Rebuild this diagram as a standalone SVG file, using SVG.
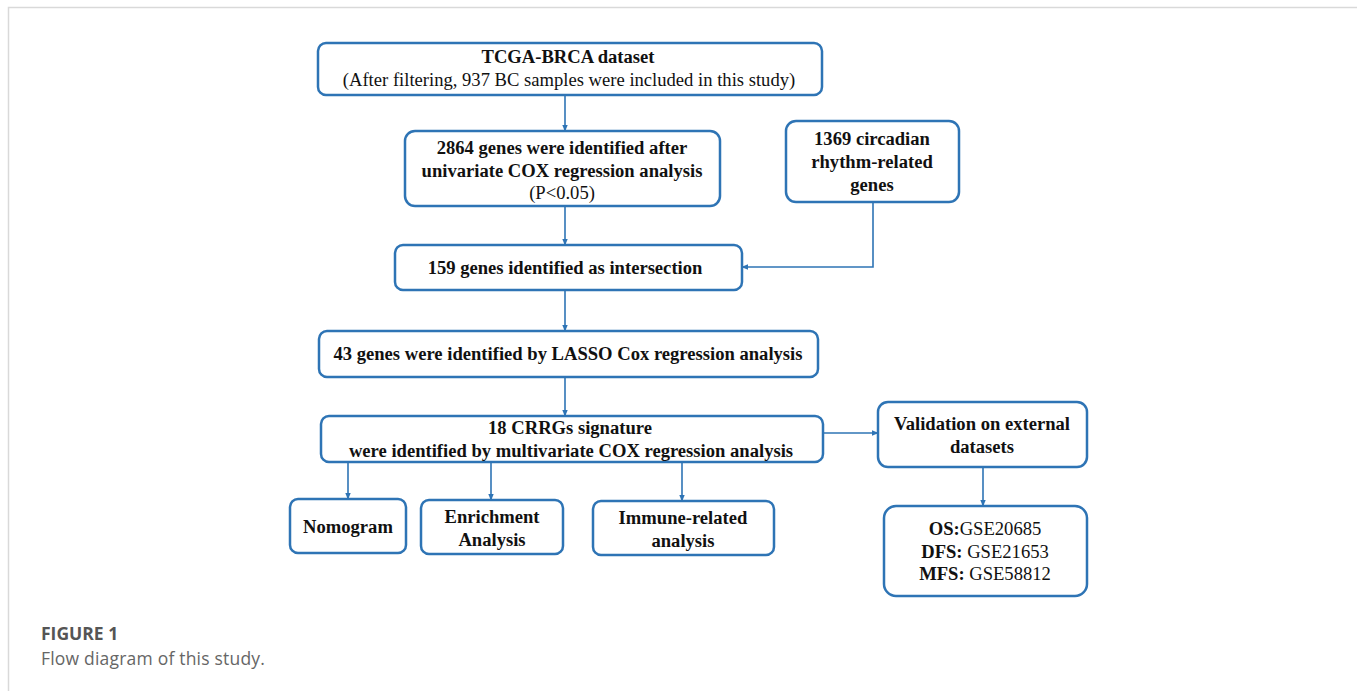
<svg xmlns="http://www.w3.org/2000/svg" width="1357" height="691" viewBox="0 0 1357 691">
<defs>
<marker id="ah" viewBox="0 0 10 10" refX="9" refY="5" markerWidth="7" markerHeight="7" markerUnits="userSpaceOnUse" orient="auto">
<path d="M0,1 L10,5 L0,9 z" fill="#2e74b5"/>
</marker>
</defs>
<style>
.box{fill:#fff;stroke:#2e74b5;stroke-width:2.5}
.t{font-family:"Liberation Serif","Times New Roman",serif;font-size:18.6px;fill:#111;text-anchor:middle}
.b{font-weight:bold}
.c{stroke:#2e74b5;stroke-width:1.6;fill:none;marker-end:url(#ah)}
.cap{font-family:"Open Sans","Noto Sans",sans-serif;font-size:17.5px}
</style>
<rect width="1357" height="691" fill="#fff"/>
<path d="M8.5,691 V7.5 H1357" fill="none" stroke="#d9d9d9" stroke-width="1.5"/>
<g id="connectors">
<path class="c" d="M565,95 V131"/>
<path class="c" d="M565,206 V245"/>
<path class="c" d="M873,202 V267 H742"/>
<path class="c" d="M565,290 V331"/>
<path class="c" d="M565,377 V416"/>
<path class="c" d="M823,433 H878"/>
<path class="c" d="M348,462 V499"/>
<path class="c" d="M491,462 V500"/>
<path class="c" d="M682,462 V501"/>
<path class="c" d="M983,467 V506"/>
</g>
<g id="n1"><rect class="box" x="318" y="43" width="504" height="52" rx="8"/>
<text class="t b" x="568" y="63">TCGA-BRCA dataset</text>
<text class="t" x="569" y="86">(After filtering, 937 BC samples were included in this study)</text></g>
<g id="n2"><rect class="box" x="405" y="131" width="315" height="75" rx="10"/>
<text class="t b" x="562" y="154">2864 genes were identified after</text>
<text class="t b" x="562" y="177">univariate COX regression analysis</text>
<text class="t" x="562" y="199">(P&lt;0.05)</text></g>
<g id="n3"><rect class="box" x="786" y="121" width="173" height="81" rx="10"/>
<text class="t b" x="872" y="145">1369 circadian</text>
<text class="t b" x="872" y="168">rhythm-related</text>
<text class="t b" x="872" y="191">genes</text></g>
<g id="n4"><rect class="box" x="395" y="245" width="347" height="45" rx="8"/>
<text class="t b" x="565" y="274">159 genes identified as intersection</text></g>
<g id="n5"><rect class="box" x="319" y="331" width="499" height="46" rx="8"/>
<text class="t b" x="568" y="360">43 genes were identified by LASSO Cox regression analysis</text></g>
<g id="n6"><rect class="box" x="321" y="416" width="502" height="46" rx="8"/>
<text class="t b" x="570" y="434">18 CRRGs signature</text>
<text class="t b" x="571" y="457">were identified by multivariate COX regression analysis</text></g>
<g id="n7"><rect class="box" x="878" y="402" width="209" height="65" rx="10"/>
<text class="t b" x="982" y="430">Validation on external</text>
<text class="t b" x="982" y="453">datasets</text></g>
<g id="n8"><rect class="box" x="290" y="499" width="116" height="54" rx="8"/>
<text class="t b" x="348" y="533">Nomogram</text></g>
<g id="n9"><rect class="box" x="421" y="500" width="142" height="54" rx="8"/>
<text class="t b" x="492" y="523">Enrichment</text>
<text class="t b" x="492" y="546">Analysis</text></g>
<g id="n10"><rect class="box" x="593" y="501" width="181" height="54" rx="8"/>
<text class="t b" x="683" y="524">Immune-related</text>
<text class="t b" x="683" y="547">analysis</text></g>
<g id="n11"><rect class="box" x="884" y="506" width="203" height="90" rx="12"/>
<text class="t" x="985" y="535"><tspan class="b">OS:</tspan>GSE20685</text>
<text class="t" x="985" y="558"><tspan class="b">DFS:</tspan> GSE21653</text>
<text class="t" x="985" y="580"><tspan class="b">MFS:</tspan> GSE58812</text></g>
<text class="cap" x="41" y="640" font-weight="bold" fill="#555">FIGURE 1</text>
<text class="cap" x="41" y="665" fill="#666" letter-spacing="0.2">Flow diagram of this study.</text>
</svg>
